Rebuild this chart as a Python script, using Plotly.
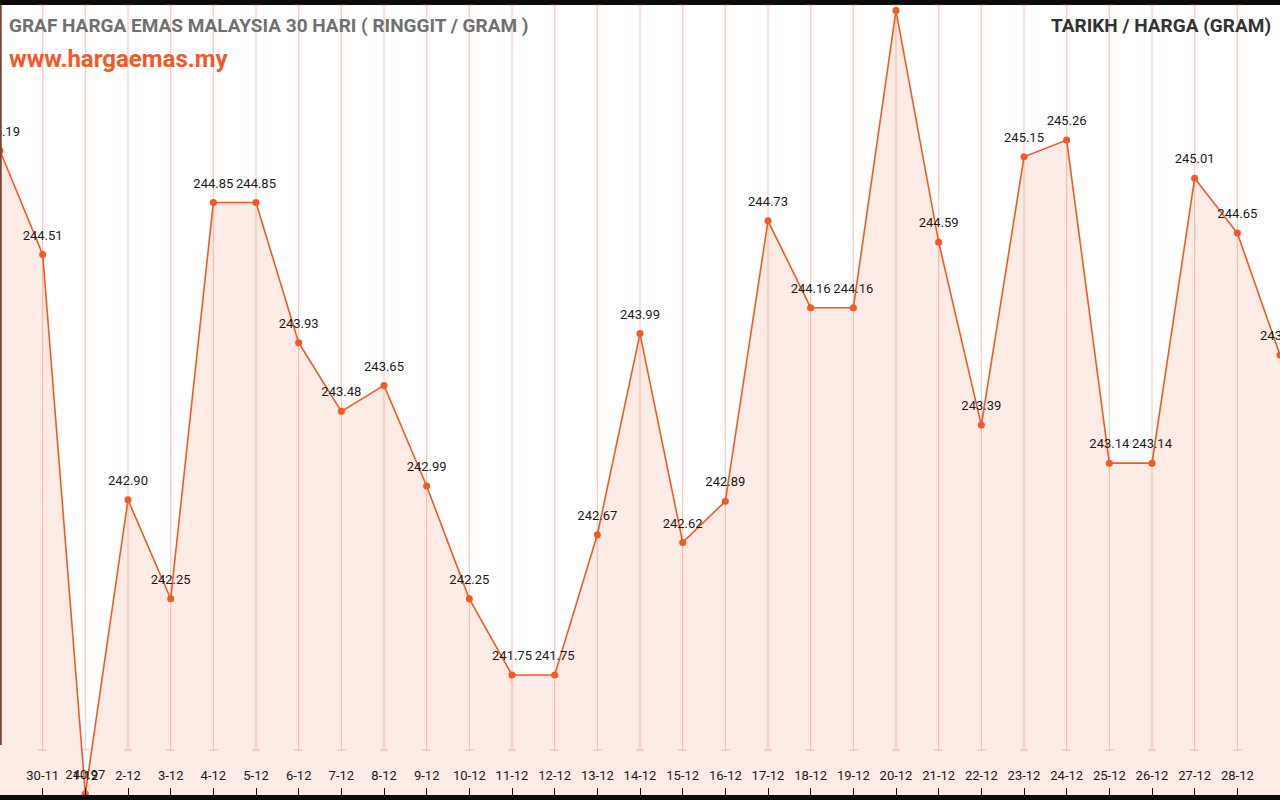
import plotly.graph_objects as go

dates = ["29-11", "30-11", "1-12", "2-12", "3-12", "4-12", "5-12", "6-12", "7-12", "8-12",
         "9-12", "10-12", "11-12", "12-12", "13-12", "14-12", "15-12", "16-12", "17-12",
         "18-12", "19-12", "20-12", "21-12", "22-12", "23-12", "24-12", "25-12", "26-12",
         "27-12", "28-12", "29-12"]
prices = [245.19, 244.51, 240.97, 242.90, 242.25, 244.85, 244.85, 243.93, 243.48, 243.65,
          242.99, 242.25, 241.75, 241.75, 242.67, 243.99, 242.62, 242.89, 244.73,
          244.16, 244.16, 246.11, 244.59, 243.39, 245.15, 245.26, 243.14, 243.14,
          245.01, 244.65, 243.85]

title_text = "GRAF HARGA EMAS MALAYSIA 30 HARI ( RINGGIT / GRAM )"
site_text = "www.hargaemas.my"
right_text = "TARIKH / HARGA (GRAM)"

W, H = 1280, 800
TOP, BOT = 5, 5
PH = H - TOP - BOT
xi = list(range(len(dates)))

ORANGE = "#f05a28"

fig = go.Figure()
fig.add_trace(go.Scatter(
    x=xi, y=prices, mode="lines+markers",
    line=dict(color=ORANGE, width=1.6),
    marker=dict(color=ORANGE, size=7),
    fill="tozeroy", fillcolor="rgba(240,90,40,0.12)",
    cliponaxis=True, hoverinfo="skip",
))
fig.add_trace(go.Scatter(
    x=xi, y=prices, mode="markers+text",
    text=[f"{p:.2f}" for p in prices], textposition="top center",
    textfont=dict(family="Roboto", size=13, color="#1a1a1a"),
    marker=dict(color="rgba(0,0,0,0)", size=17),
    cliponaxis=True, hoverinfo="skip",
))

def py(pix):
    return (H - BOT - pix) / PH

grid_col = "rgba(245,120,85,0.45)"
shapes = []
for i in xi[1:-1]:
    shapes.append(dict(type="line", xref="x", yref="paper", x0=i, x1=i, y0=py(750), y1=py(5),
                       line=dict(color=grid_col, width=1), layer="below"))
    for yy in (750, 5):
        shapes.append(dict(type="line", xref="x", yref="paper", x0=i - 0.1, x1=i + 0.1,
                           y0=py(yy), y1=py(yy),
                           line=dict(color=grid_col, width=1), layer="below"))
shapes.append(dict(type="line", xref="paper", yref="paper", x0=0.0006, x1=0.0006, y0=py(745), y1=1,
                   line=dict(color="#7a4636", width=2), layer="above"))

annotations = [
    dict(text=f"<b>{title_text}</b>", xref="paper", yref="paper", x=7 / W, y=py(25),
         xanchor="left", yanchor="middle", showarrow=False,
         font=dict(family="Roboto", size=19, color="#707070")),
    dict(text=f"<b>{site_text}</b>", xref="paper", yref="paper", x=7 / W, y=py(59),
         xanchor="left", yanchor="middle", showarrow=False,
         font=dict(family="Roboto", size=24, color=ORANGE)),
    dict(text=f"<b>{right_text}</b>", xref="paper", yref="paper", x=1273 / W, y=py(25),
         xanchor="right", yanchor="middle", showarrow=False,
         font=dict(family="Roboto", size=19, color="#333333")),
]

scale = 152.4
ymax = 241.75 + (675 - TOP) / scale
ymin = 241.75 - (H - BOT - 675) / scale

fig.update_layout(
    width=W, height=H,
    margin=dict(l=0, r=0, t=TOP, b=BOT, pad=0),
    paper_bgcolor="#0c0c0c", plot_bgcolor="white",
    showlegend=False,
    xaxis=dict(range=[0, len(dates) - 1], tickvals=xi[1:-1], ticktext=dates[1:-1],
               showgrid=False, zeroline=False, showline=False,
               ticks="inside", ticklen=7, tickcolor="#111111", tickwidth=1,
               ticklabelposition="inside", ticklabelstandoff=5,
               tickfont=dict(family="Roboto", size=13, color="#1a1a1a")),
    yaxis=dict(range=[ymin, ymax], visible=False, showgrid=False, zeroline=False),
    shapes=shapes, annotations=annotations,
)

fig.write_html("out.html", config={"displayModeBar": False},
               post_script="document.body.style.margin='0';document.body.style.overflow='hidden';")
